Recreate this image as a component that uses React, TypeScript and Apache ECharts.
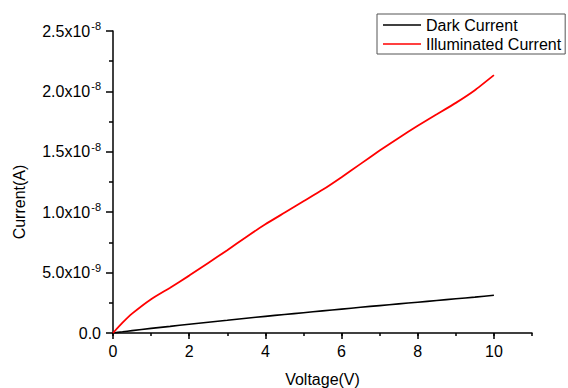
import React, { useEffect, useRef } from "react";
import * as echarts from "echarts";

const voltage = [0, 0.25, 0.5, 1, 1.5, 2, 2.5, 3, 3.5, 4, 4.5, 5, 5.5, 6, 6.5, 7, 7.5, 8, 8.5, 9, 9.5, 10];
const darkCurrent = [0, 0.1e-9, 0.2e-9, 0.38e-9, 0.55e-9, 0.72e-9, 0.89e-9, 1.05e-9, 1.22e-9, 1.38e-9, 1.53e-9, 1.68e-9, 1.83e-9, 1.98e-9, 2.13e-9, 2.27e-9, 2.41e-9, 2.55e-9, 2.69e-9, 2.83e-9, 2.97e-9, 3.12e-9];
const illuminatedCurrent = [0, 0.85e-9, 1.6e-9, 2.8e-9, 3.75e-9, 4.75e-9, 5.8e-9, 6.85e-9, 7.95e-9, 9.0e-9, 9.95e-9, 10.9e-9, 11.85e-9, 12.9e-9, 14.0e-9, 15.1e-9, 16.15e-9, 17.15e-9, 18.1e-9, 19.05e-9, 20.1e-9, 21.35e-9];
const xMajorTicks = [0, 2, 4, 6, 8, 10];
const seriesNames = ["Dark Current", "Illuminated Current"];

const FONT = "Liberation Sans, Arial, sans-serif";

function yLabel(v: number): string {
  if (v === 0) return "{m|0.0}";
  const exp = Math.floor(Math.log10(v) + 1e-9);
  const man = v / Math.pow(10, exp);
  return `{m|${man.toFixed(1)}x10}{e|${exp}}`;
}

export default function App() {
  const ref = useRef<HTMLDivElement>(null);
  useEffect(() => {
    if (!ref.current) return;
    const chart = echarts.init(ref.current, undefined, { renderer: "svg" });
    chart.setOption({
      animation: false,
      backgroundColor: "#ffffff",
      textStyle: { fontFamily: FONT },
      grid: { left: 113, right: 36, top: 31, bottom: 55, containLabel: false, outerBoundsMode: "none" },
      legend: {
        orient: "vertical",
        left: 377,
        top: 14,
        padding: [3, 4, 2, 6],
        icon: "rect",
        itemWidth: 38,
        itemHeight: 1.6,
        itemGap: 3,
        borderColor: "#555555",
        borderWidth: 1,
        textStyle: { fontFamily: FONT, fontSize: 16, color: "#000", lineHeight: 16 },
        data: seriesNames,
      },
      xAxis: [
        {
          type: "value",
          min: 0,
          max: 11,
          interval: 1,
          name: "Voltage(V)",
          nameLocation: "middle",
          nameGap: 38,
          nameTextStyle: { fontFamily: FONT, fontSize: 16, color: "#000" },
          axisLine: { show: true, lineStyle: { color: "#000", width: 1.5 } },
          axisTick: { show: true, length: 6, customValues: xMajorTicks, lineStyle: { color: "#000", width: 1.5 } },
          axisLabel: { show: true, margin: 10, fontFamily: FONT, fontSize: 16, color: "#000", customValues: xMajorTicks },
          splitLine: { show: false },
        },
        {
          type: "value",
          min: 0,
          max: 11,
          interval: 1,
          position: "bottom",
          axisLine: { show: false },
          axisTick: { show: true, length: 3, lineStyle: { color: "#000", width: 1.5 } },
          axisLabel: { show: false },
          splitLine: { show: false },
        },
      ],
      yAxis: {
        type: "value",
        min: 0,
        max: 2.5e-8,
        interval: 5e-9,
        axisLine: { show: true, lineStyle: { color: "#000", width: 1.5 } },
        axisTick: { show: true, length: 7, lineStyle: { color: "#000", width: 1.5 } },
        minorTick: { show: true, splitNumber: 2, length: 4, lineStyle: { color: "#000", width: 1.5 } },
        axisLabel: {
          margin: 12,
          formatter: yLabel,
          rich: {
            m: { fontFamily: FONT, fontSize: 16, color: "#000" },
            e: { fontFamily: FONT, fontSize: 11, color: "#000", padding: [0, 0, 10, 1] },
          },
        },
        splitLine: { show: false },
        minorSplitLine: { show: false },
      },
      graphic: [
        {
          type: "text",
          x: 19,
          y: 202,
          rotation: Math.PI / 2,
          style: {
            text: "Current(A)",
            fontFamily: FONT,
            fontSize: 16,
            fill: "#000",
            align: "center",
            verticalAlign: "middle",
          },
        },
      ],
      series: [
        {
          name: seriesNames[0],
          type: "line",
          xAxisIndex: 0,
          symbol: "none",
          smooth: 0.15,
          data: voltage.map((v, i) => [v, darkCurrent[i]]),
          lineStyle: { color: "#000000", width: 1.6 },
          itemStyle: { color: "#000000" },
        },
        {
          name: seriesNames[1],
          type: "line",
          xAxisIndex: 0,
          symbol: "none",
          smooth: 0.15,
          data: voltage.map((v, i) => [v, illuminatedCurrent[i]]),
          lineStyle: { color: "#ff0000", width: 1.8 },
          itemStyle: { color: "#ff0000" },
        },
      ],
    });
    return () => chart.dispose();
  }, []);
  return <div ref={ref} style={{ position: "fixed", left: 0, top: 0, width: 568, height: 388 }} />;
}
